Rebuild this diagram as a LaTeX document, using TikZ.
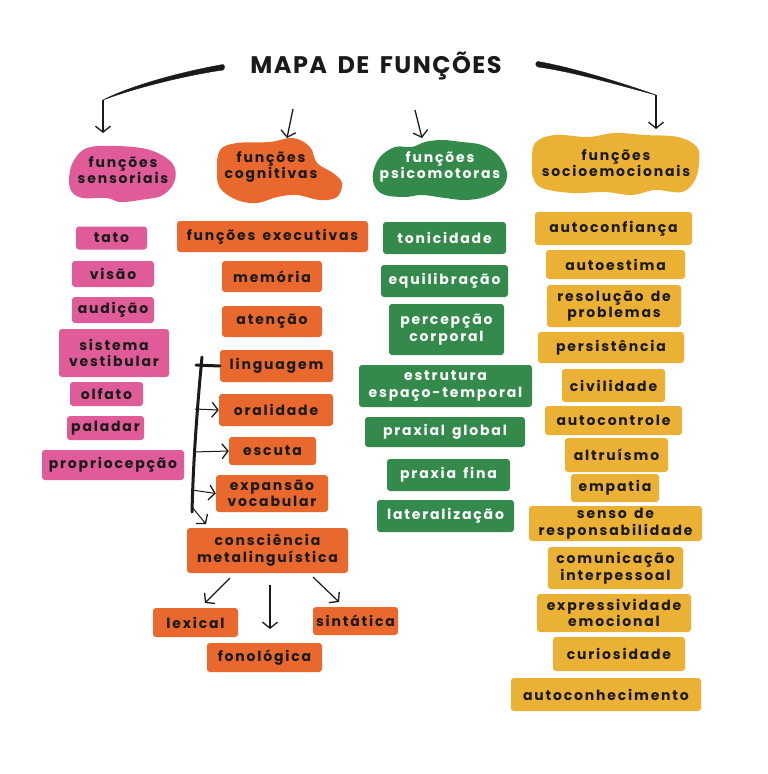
\documentclass[tikz,border=0pt]{standalone}
\usepackage{fontspec}
\setmainfont{Poppins}[LetterSpace=13, WordSpace=1.5]
\newfontfamily\titlefont{Poppins}[LetterSpace=6, WordSpace=1.6]
\usetikzlibrary{arrows.meta,calc}
\definecolor{pinkc}{HTML}{DF5C98}
\definecolor{orangec}{HTML}{E8682D}
\definecolor{greenc}{HTML}{338A4A}
\definecolor{yellowc}{HTML}{EBB134}
\definecolor{ink}{HTML}{1A1A1A}
\tikzset{
  bx/.style={rounded corners=3pt, inner sep=0pt, align=center,
     font=\fontsize{14}{16.5}\selectfont\bfseries, text=ink},
  pk/.style={bx, fill=pinkc},
  og/.style={bx, fill=orangec},
  gr/.style={bx, fill=greenc, text=white},
  yl/.style={bx, fill=yellowc},
  bt/.style={align=center, inner sep=0pt, font=\fontsize{14}{16.5}\selectfont\bfseries, text=ink},
  arr/.style={draw=ink, line width=1.3pt, -{Straight Barb[length=6pt,width=15pt,line width=1.3pt]}},
  swoosh/.style={fill=ink, draw=ink, line width=0.4pt},
  brk/.style={draw=ink, line width=3pt, line cap=round},
}
\newcommand{\bxn}[6]{\node[#1, minimum width=#4pt, minimum height=#5pt] (#2) at (#3) {#6};}
\begin{document}
\begin{tikzpicture}[x=1pt,y=-1pt]
\useasboundingbox (0,0) rectangle (768,774);
\fill[white] (0,0) rectangle (768,774);

% title
\node[font=\titlefont\fontsize{24}{24}\selectfont\bfseries, text=ink] (title) at (376,66) {MAPA DE FUNÇÕES};

% blobs
\fill[pinkc] plot[smooth cycle, tension=0.6] coordinates {(69,180) (73,162) (87,148) (117,146) (150,150) (172,163) (175,180) (163,195) (140,200) (120,202) (107,198) (83,198) (72,192)};
\fill[orangec] plot[smooth cycle, tension=0.6] coordinates {(220,150) (237,143) (270,142) (293,138) (310,147) (317,163) (333,173) (342,183) (337,197) (320,200) (297,195) (277,197) (257,203) (237,200) (220,188) (217,170)};
\fill[greenc] plot[smooth cycle, tension=0.6] coordinates {(373,173) (380,157) (395,147) (412,147) (425,142) (442,140) (462,142) (482,145) (498,155) (507,173) (502,188) (485,197) (465,200) (445,198) (422,195) (405,197) (385,195) (375,187)};
\fill[yellowc] plot[smooth cycle, tension=0.6] coordinates {(532,163) (535,143) (555,135) (588,137) (615,133) (645,135) (678,137) (697,147) (699,163) (695,180) (682,192) (655,190) (632,195) (605,192) (572,193) (542,188) (533,177)};

\node[bt] (sens) at (123,170) {funções\\sensoriais};
\node[bt] (cog) at (271,167) {funções\\cognitivas};
\node[bt, text=white] (psico) at (440,167) {funções\\psicomotoras};
\node[bt] (socio) at (616,163) {funções\\socioemocionais};

% top connectors
\coordinate (lB) at (103,100);
\coordinate (lC) at (103,133);
\coordinate (rB) at (656,95);
\coordinate (rC) at (656,129);
\fill[swoosh] (223,64.5) .. controls (180,72) and (130,86) .. (lB) .. controls (132,89) and (182,76) .. (223,70) .. controls (225,69) and (225,65) .. (223,64.5) -- cycle;
\draw[arr] (lB) -- (lC);
\fill[swoosh] (538,61.5) .. controls (575,68) and (625,84) .. (rB) .. controls (625,87) and (575,72) .. (538,67) .. controls (535,66) and (535,62) .. (538,61.5) -- cycle;
\draw[arr] (rB) -- (rC);
\coordinate (cA) at (293,109);
\coordinate (cB) at (287,138);
\draw[arr] (cA) -- (cB);
\coordinate (pA) at (415,110);
\coordinate (pB) at (422,138);
\draw[arr] (pA) -- (pB);

% pink column
\bxn{pk}{tato}{111.5,238}{71}{23}{tato}
\bxn{pk}{visao}{113,274}{82}{26}{visão}
\bxn{pk}{audicao}{113,310}{82}{26}{audição}
\bxn{pk}{sistema}{114,353}{110}{48}{sistema\\vestibular}
\bxn{pk}{olfato}{106.5,394}{73}{24}{olfato}
\bxn{pk}{paladar}{105.5,428}{77}{24}{paladar}
\bxn{pk}{proprio}{113,465}{142}{30}{propriocepção}

% orange column
\bxn{og}{fexec}{272.5,236.5}{191}{31}{funções executivas}
\bxn{og}{memoria}{272,276.5}{100}{31}{memória}
\bxn{og}{atencao}{272,321.5}{100}{31}{atenção}
\bxn{og}{ling}{276.5,366}{113}{32}{linguagem}
\bxn{og}{oral}{276,410}{114}{32}{oralidade}
\bxn{og}{escuta}{272.5,451}{87}{28}{escuta}
\bxn{og}{expansao}{272,493.5}{112}{37}{expansão\\vocabular}
\bxn{og}{cons}{267.5,550.5}{161}{45}{consciência\\metalinguística}
\bxn{og}{lexical}{195.5,622.5}{85}{29}{lexical}
\bxn{og}{sintatica}{355.5,621}{85}{28}{sintática}
\bxn{og}{fonologica}{264.5,657.5}{115}{29}{fonológica}

% bracket
\coordinate (bTop) at (202,357);
\coordinate (bBot) at (192,512);
\draw[brk] (bTop) .. controls (196,420) and (193,470) .. (bBot);
\draw[brk] (196,365) -- (ling.west);
\coordinate (bO) at (195,409);
\coordinate (bE) at (193,452);
\coordinate (bX) at (192,490);
\coordinate (bC) at (192,507);
\draw[arr, line width=1pt] (bO) -- (oral.west);
\draw[arr, line width=1pt] (bE) -- (escuta.west);
\draw[arr, line width=1pt] (bX) -- (expansao.west);
\draw[arr, line width=1pt] (bC) -- (206,524);

% metalinguistic arrows
\coordinate (mL1) at (230,578);
\coordinate (mL2) at (205,603);
\coordinate (mF1) at (270,585);
\coordinate (mF2) at (270,629);
\coordinate (mS1) at (313,577);
\coordinate (mS2) at (339,602);
\draw[arr, line width=1.2pt] (mL1) -- (mL2);
\draw[arr, line width=1.4pt] (mF1) -- (mF2);
\draw[arr, line width=1.2pt] (mS1) -- (mS2);

% green column
\bxn{gr}{tonic}{444.5,238}{123}{32}{tonicidade}
\bxn{gr}{equil}{444.5,281}{127}{32}{equilibração}
\bxn{gr}{percep}{446.5,329.5}{115}{51}{percepção\\corporal}
\bxn{gr}{estrut}{445.5,386}{173}{42}{estrutura\\espaço-temporal}
\bxn{gr}{praxial}{445,432}{160}{30}{praxial global}
\bxn{gr}{praxia}{448.5,475}{123}{32}{praxia fina}
\bxn{gr}{lateral}{445.5,516}{137}{32}{lateralização}

% yellow column
\bxn{yl}{autoconf}{613.5,228.5}{157}{33}{autoconfiança}
\bxn{yl}{autoest}{615.5,264.5}{139}{29}{autoestima}
\bxn{yl}{resol}{614,306}{134}{42}{resolução de\\problemas}
\bxn{yl}{persist}{611,347.5}{146}{31}{persistência}
\bxn{yl}{civil}{613.5,385.5}{103}{33}{civilidade}
\bxn{yl}{autocont}{613.5,420.5}{137}{29}{autocontrole}
\bxn{yl}{altru}{616.5,455}{103}{34}{altruísmo}
\bxn{yl}{empatia}{615,488}{88}{28}{empatia}
\bxn{yl}{senso}{615.5,523.5}{173}{35}{senso de\\responsabilidade}
\bxn{yl}{comunic}{615.5,568}{135}{42}{comunicação\\interpessoal}
\bxn{yl}{express}{614,613}{154}{38}{expressividade\\emocional}
\bxn{yl}{curios}{619,654}{132}{34}{curiosidade}
\bxn{yl}{autocon}{606,694.5}{190}{33}{autoconhecimento}
\end{tikzpicture}
\end{document}
